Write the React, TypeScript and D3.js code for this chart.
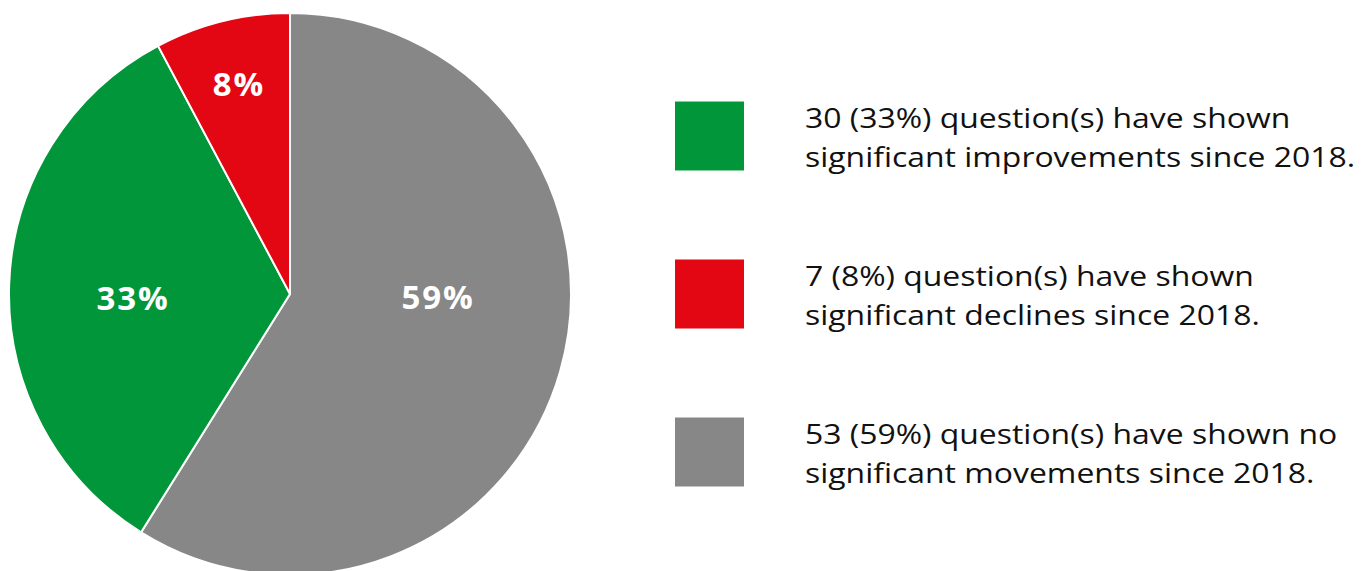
import React from "react";
import * as d3 from "d3";

const categories = ["improvements", "declines", "no movements"];
const counts = [30, 7, 53];
const percents = ["33%", "8%", "59%"];
const colors = ["#02963a", "#e30613", "#878787"];
const legendLines = [
  ["30 (33%) question(s) have shown", "significant improvements since 2018."],
  ["7 (8%) question(s) have shown", "significant declines since 2018."],
  ["53 (59%) question(s) have shown no", "significant movements since 2018."],
];
// pie drawing order (clockwise from 12 o'clock): no movements, improvements, declines
const drawOrder = [2, 0, 1];
// label placement per category: radius fraction and angle offset (degrees) from slice mid-angle
const labelRadiusFrac = [0.559, 0.769, 0.527];
const labelAngleOffset = [-3.5, 0.3, -14.8];

export default function App() {
  const W = 1369, H = 571;
  const cx = 290, cy = 294, R = 281;
  const pie = d3.pie<number>().sort(null).value((i) => counts[i]);
  const arcs = pie(drawOrder);
  const arc = d3.arc<d3.PieArcDatum<number>>().innerRadius(0).outerRadius(R);
  const font = "'Open Sans', 'Noto Sans', sans-serif";
  const legendY = d3.scalePoint<number>().domain([0, 1, 2]).range([136, 452]);
  return (
    <svg width={W} height={H} style={{ position: "absolute", left: 0, top: 0, background: "#fff" }}>
      <g transform={`translate(${cx},${cy})`}>
        {arcs.map((a) => (
          <path key={a.data} d={arc(a) || ""} fill={colors[a.data]} stroke="#fff" strokeWidth={2} />
        ))}
        {arcs.map((a) => {
          const mid = (a.startAngle + a.endAngle) / 2 + (labelAngleOffset[a.data] * Math.PI) / 180;
          const r = R * labelRadiusFrac[a.data];
          const x = Math.sin(mid) * r;
          const y = -Math.cos(mid) * r;
          return (
            <text key={"l" + a.data} x={x} y={y} dy="0.36em" textAnchor="middle" fill="#fff"
              fontFamily={font} fontWeight={700} fontSize={33} letterSpacing={1.8}>
              {percents[a.data]}
            </text>
          );
        })}
      </g>
      {categories.map((c, i) => {
        const y = legendY(i)!;
        return (
          <g key={c}>
            <rect x={675} y={y - 34.5} width={69} height={69} fill={colors[i]} />
            {legendLines[i].map((t, j) => (
              <text key={j} transform={`translate(805,${y - 8 + j * 39}) scale(1.14,1)`} fill="#111"
                fontFamily={font} fontSize={28}>
                {t}
              </text>
            ))}
          </g>
        );
      })}
    </svg>
  );
}
